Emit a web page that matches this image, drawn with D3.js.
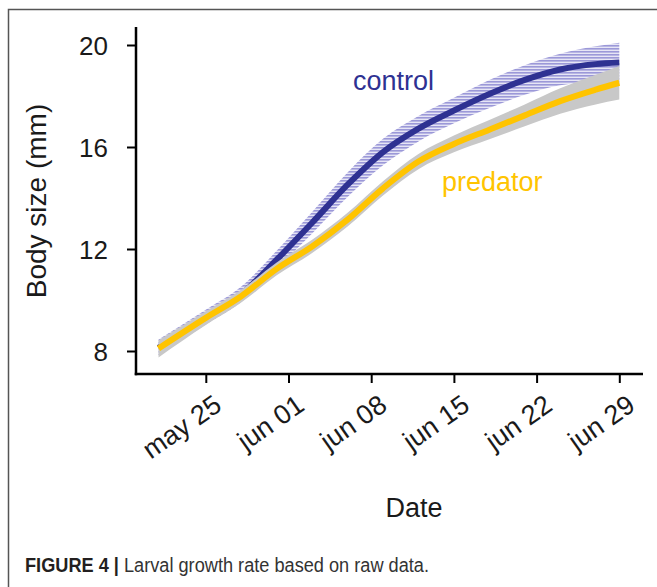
<!DOCTYPE html>
<html>
<head>
<meta charset="utf-8">
<script src="https://cdn.jsdelivr.net/npm/d3@7"></script>
<style>
  html, body { margin: 0; padding: 0; background: #fff; }
  svg { display: block; }
  text { font-family: "Liberation Sans", Arial, Helvetica, sans-serif; }
</style>
</head>
<body>
<svg id="chart" width="657" height="587"></svg>
<script>
// ---- data ----
const dates = ["2018-05-21","2018-05-25","2018-05-28","2018-05-31","2018-06-03","2018-06-06","2018-06-09",
               "2018-06-12","2018-06-15","2018-06-18","2018-06-21","2018-06-24","2018-06-27","2018-06-29"];
const controlMean  = [8.13, 9.32, 10.22, 11.58, 13.03, 14.52, 15.80, 16.72, 17.43, 18.08, 18.63, 19.04, 19.25, 19.31];
const controlLow   = [7.83, 9.04,  9.92, 11.23, 12.61, 14.04, 15.28, 16.22, 16.93, 17.53, 18.05, 18.42, 18.55, 18.53];
const controlHigh  = [8.45, 9.62, 10.53, 11.93, 13.45, 15.00, 16.32, 17.22, 17.93, 18.63, 19.21, 19.66, 19.95, 20.09];
const predatorMean = [8.10, 9.30, 10.15, 11.22, 12.10, 13.15, 14.38, 15.43, 16.12, 16.68, 17.24, 17.80, 18.25, 18.52];
const predatorLow  = [7.75, 9.02,  9.90, 10.97, 11.84, 12.88, 14.10, 15.13, 15.79, 16.30, 16.81, 17.30, 17.67, 17.86];
const predatorHigh = [8.42, 9.56, 10.40, 11.47, 12.36, 13.42, 14.66, 15.73, 16.45, 17.06, 17.67, 18.30, 18.83, 19.18];
const xTickDates = ["2018-05-25","2018-06-01","2018-06-08","2018-06-15","2018-06-22","2018-06-29"];
const yTicks = [8, 12, 16, 20];
const seriesLabels = ["control", "predator"];
const xTitle = "Date";
const yTitle = "Body size (mm)";
const captionBold = "FIGURE 4 |";
const captionText = " Larval growth rate based on raw data.";

// ---- setup ----
const parse = d3.timeParse("%Y-%m-%d");
const svg = d3.select("#chart");
const colControl = "#2E3192", colPred = "#FFC400", colBand = "#C8C8C8", colHatch = "#9B98D8";

const x = d3.scaleTime().domain([parse(xTickDates[0]), parse(xTickDates[xTickDates.length-1])]).range([205.8, 619.3]);
const y = d3.scaleLinear().domain([8, 20]).range([351, 45]);

const rows = dates.map((d, i) => ({
  date: parse(d), cm: controlMean[i], cl: controlLow[i], ch: controlHigh[i],
  pm: predatorMean[i], pl: predatorLow[i], ph: predatorHigh[i]
}));

// frame
svg.append("path").attr("d", "M8.5,587 L8.5,9.5 L657,9.5")
  .attr("fill", "none").attr("stroke", "#555").attr("stroke-width", 1.5);

// hatch pattern
const defs = svg.append("defs");
const pat = defs.append("pattern").attr("id", "hatch").attr("patternUnits", "userSpaceOnUse")
  .attr("width", 8).attr("height", 3);
pat.append("rect").attr("x", 0).attr("y", 0).attr("width", 8).attr("height", 3).attr("fill", "#e6e5f5");
pat.append("rect").attr("x", 0).attr("y", 0).attr("width", 8).attr("height", 1.6).attr("fill", colHatch);

const curve = d3.curveMonotoneX;
const area = (lo, hi) => d3.area().x(d => x(d.date)).y0(d => y(d[lo])).y1(d => y(d[hi])).curve(curve);
const line = key => d3.line().x(d => x(d.date)).y(d => y(d[key])).curve(curve);

svg.append("path").datum(rows).attr("d", area("cl", "ch")).attr("fill", "url(#hatch)");
svg.append("path").datum(rows).attr("d", line("cm")).attr("fill", "none").attr("stroke", colControl).attr("stroke-width", 6);
svg.append("path").datum(rows).attr("d", area("pl", "ph")).attr("fill", colBand);
svg.append("path").datum(rows).attr("d", line("pm")).attr("fill", "none").attr("stroke", colPred).attr("stroke-width", 6);

// axes
const axisY = 374, axisX = 136;
svg.append("line").attr("x1", axisX).attr("x2", axisX).attr("y1", 27).attr("y2", axisY + 1.25)
  .attr("stroke", "#000").attr("stroke-width", 2.5);
svg.append("line").attr("x1", axisX - 1.25).attr("x2", 643).attr("y1", axisY).attr("y2", axisY)
  .attr("stroke", "#000").attr("stroke-width", 2.5);

const fmt = d => d3.timeFormat("%b %d")(d).toLowerCase();
const gx = svg.append("g").attr("transform", `translate(0,${axisY})`)
  .call(d3.axisBottom(x).tickValues(xTickDates.map(parse)).tickFormat(fmt).tickSize(9).tickPadding(0));
gx.select(".domain").remove();
gx.selectAll(".tick line").attr("stroke", "#000").attr("stroke-width", 2);
gx.selectAll(".tick text")
  .attr("font-size", 27).attr("fill", "#1a1a1a")
  .attr("text-anchor", "end").attr("dy", null).attr("y", null)
  .attr("transform", "translate(17,35) rotate(-35)");

const gy = svg.append("g").attr("transform", `translate(${axisX},0)`)
  .call(d3.axisLeft(y).tickValues(yTicks).tickSize(9).tickPadding(0));
gy.select(".domain").remove();
gy.selectAll(".tick line").attr("stroke", "#000").attr("stroke-width", 2);
gy.selectAll(".tick text").attr("font-size", 26).attr("fill", "#1a1a1a")
  .attr("x", -28).attr("dy", "0.36em");

// titles
svg.append("text").attr("x", 414).attr("y", 517).attr("text-anchor", "middle")
  .attr("font-size", 27).attr("fill", "#1a1a1a").text(xTitle);
svg.append("text").attr("transform", "translate(46,201) rotate(-90)").attr("text-anchor", "middle")
  .attr("font-size", 28).attr("fill", "#1a1a1a").text(yTitle);

// series labels
svg.append("text").attr("x", 353).attr("y", 90).attr("font-size", 27).attr("fill", colControl).text(seriesLabels[0]);
svg.append("text").attr("x", 442).attr("y", 191).attr("font-size", 27).attr("fill", colPred).text(seriesLabels[1]);

// caption
const cap = svg.append("text").attr("x", 25).attr("y", 572).attr("font-size", 20).attr("fill", "#333")
  .attr("textLength", 404).attr("lengthAdjust", "spacingAndGlyphs");
cap.append("tspan").attr("font-weight", "bold").attr("fill", "#231f20").text(captionBold);
cap.append("tspan").text(captionText);
</script>
</body>
</html>
